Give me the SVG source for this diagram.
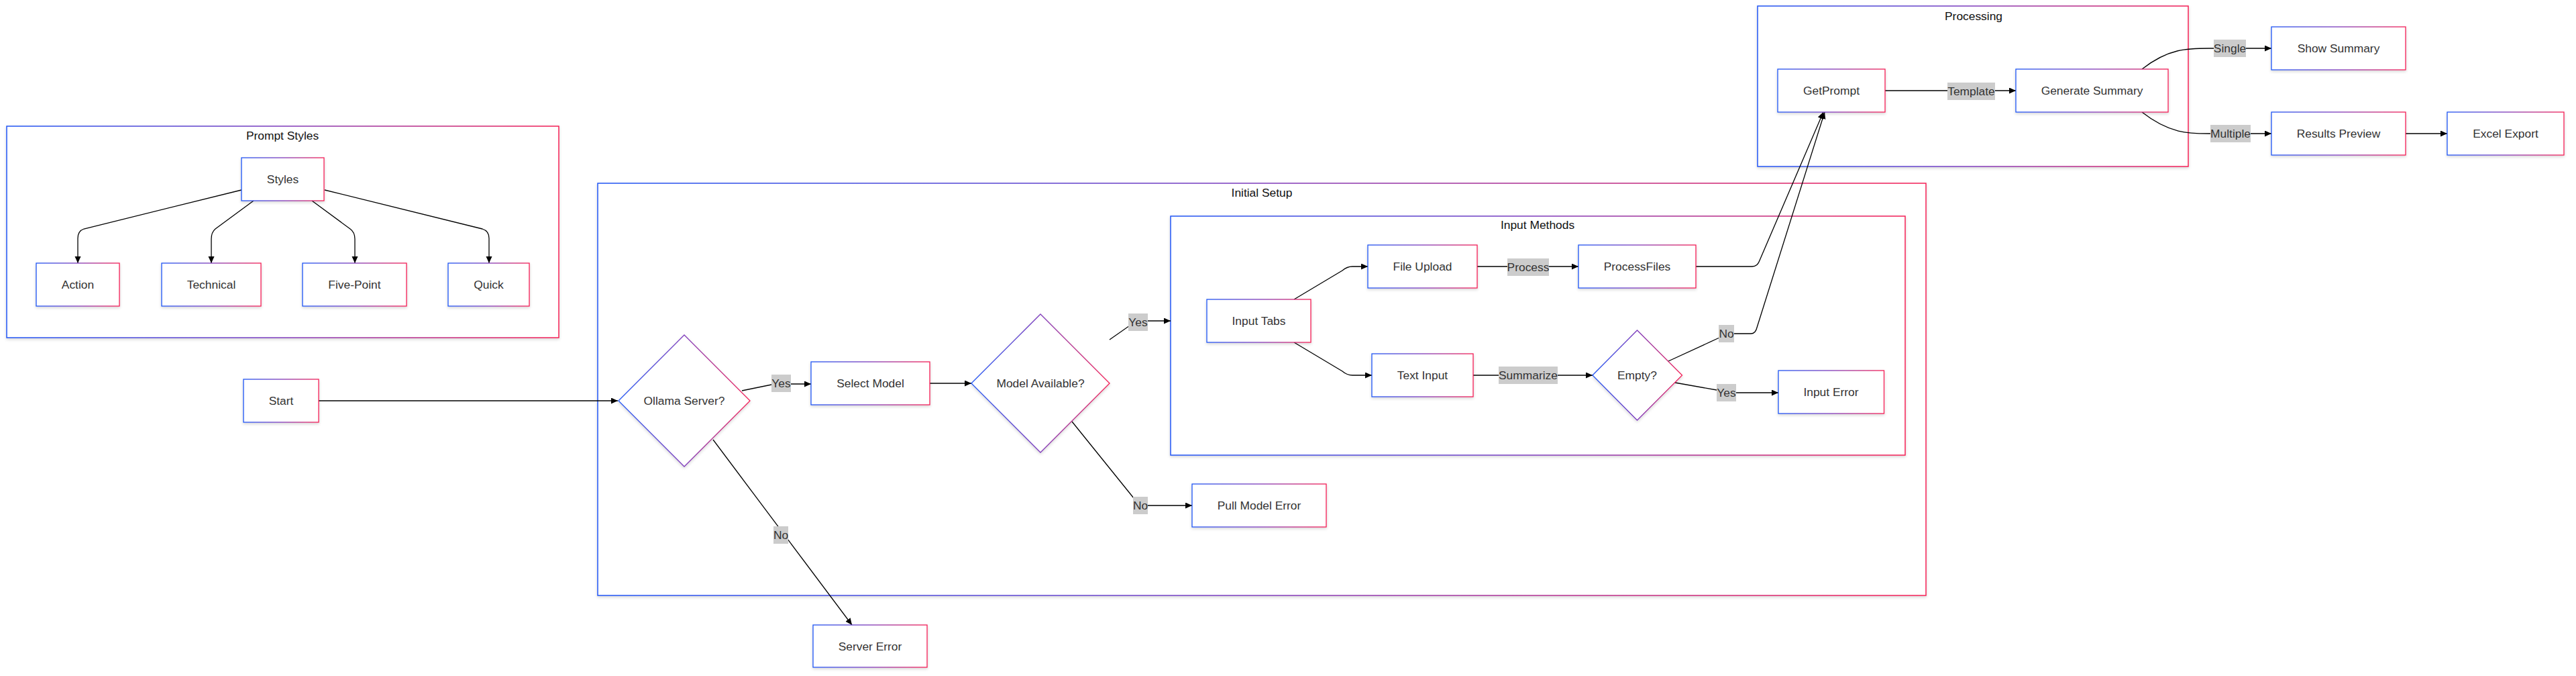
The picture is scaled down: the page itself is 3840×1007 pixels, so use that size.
<svg xmlns="http://www.w3.org/2000/svg" width="3840" height="1007" viewBox="0 0 3840 1007">
<defs>
<linearGradient id="g" x1="0" y1="0" x2="1" y2="0">
<stop offset="0" stop-color="#1f55f5"/>
<stop offset="0.5" stop-color="#7f3cbc"/>
<stop offset="1" stop-color="#f51f55"/>
</linearGradient>
<filter id="sh" x="-10%" y="-10%" width="120%" height="130%">
<feDropShadow dx="0" dy="2" stdDeviation="2" flood-color="#000" flood-opacity="0.16"/>
</filter>
<marker id="ah" markerUnits="userSpaceOnUse" markerWidth="11" markerHeight="10" refX="10" refY="4.5" orient="auto">
<path d="M0,0 L10,4.5 L0,9 z" fill="#000"/>
</marker>
</defs>
<style>
.cl{fill:#fff;stroke:url(#g);stroke-width:1.5;filter:url(#sh)}
.nd{fill:#fff;stroke:url(#g);stroke-width:1.3;filter:url(#sh)}
.t{font-family:"Liberation Sans",Arial,sans-serif;font-size:17.4px;fill:#333;text-anchor:middle}
.ct{font-family:"Liberation Sans",Arial,sans-serif;font-size:17.4px;fill:#111;text-anchor:middle}
.e{fill:none;stroke:#000;stroke-width:1.3;marker-end:url(#ah)}
.lb{fill:#cccccc}
</style>
<rect width="3840" height="1007" fill="#fff"/>
<g id="clusters">
<g id="cluster-prompt-styles"><rect class="cl" x="10" y="188" width="823" height="315"/><text class="ct" x="421" y="202" dy="0.35em">Prompt Styles</text></g>
<g id="cluster-initial-setup"><rect class="cl" x="891" y="273" width="1980" height="614"/><text class="ct" x="1881" y="287" dy="0.35em">Initial Setup</text></g>
<g id="cluster-input-methods"><rect class="cl" x="1745" y="322" width="1095" height="356"/><text class="ct" x="2292" y="335" dy="0.35em">Input Methods</text></g>
<g id="cluster-processing"><rect class="cl" x="2620" y="9" width="642" height="239"/><text class="ct" x="2942" y="24" dy="0.35em">Processing</text></g>
</g>
<g id="connectors">
<path class="e" d="M360,283 L125,341 Q116,344 116,355 L116,392"/>
<path class="e" d="M378,299 L321,341 Q315,346 315,356 L315,392"/>
<path class="e" d="M465,299 L522,341 Q529,346 529,356 L529,392"/>
<path class="e" d="M484,283 L719,341 Q729,344 729,355 L729,392"/>
<path class="e" d="M475,597 L921,597"/>
<path class="e" d="M1106,582 L1150,573 L1179,572 L1209,572"/>
<path class="e" d="M1386,571 L1448,571"/>
<path class="e" d="M1654,506 L1684,485 L1711,478 L1745,478"/>
<path class="e" d="M1598,628 L1690,742 Q1697,753 1710,753 L1777,753"/>
<path class="e" d="M1063,655 L1270,931"/>
<path class="e" d="M1929,446 L2001,403 Q2008,397 2016,397 L2039,397"/>
<path class="e" d="M1929,510 L2001,553 Q2008,559 2016,559 L2045,559"/>
<path class="e" d="M2202,397 L2353,397"/>
<path class="e" d="M2196,559 L2374,559"/>
<path class="e" d="M2528,397 L2612,397 Q2620,397 2623,388 L2718,167"/>
<path class="e" d="M2487,538 L2563,503 L2585,497 L2610,497 Q2617,497 2619,488 L2720,167"/>
<path class="e" d="M2497,570 L2559,581 L2588,585 L2651,585"/>
<path class="e" d="M2810,135 L3005,135"/>
<path class="e" d="M3193,103 C3235,70 3265,72 3300,72 L3386,72"/>
<path class="e" d="M3193,167 C3235,200 3265,199 3295,199 L3386,199"/>
<path class="e" d="M3586,199 L3648,199"/>
</g>
<g id="edge-labels">
<rect class="lb" x="1150" y="558" width="29" height="26"/><text class="t" x="1164.5" y="571" dy="0.35em">Yes</text>
<rect class="lb" x="1682" y="467" width="29" height="26"/><text class="t" x="1696.5" y="480" dy="0.35em">Yes</text>
<rect class="lb" x="1689" y="740" width="22" height="26"/><text class="t" x="1700" y="753" dy="0.35em">No</text>
<rect class="lb" x="1153" y="784" width="22" height="26"/><text class="t" x="1164" y="797" dy="0.35em">No</text>
<rect class="lb" x="2247" y="385" width="62" height="26"/><text class="t" x="2278" y="398" dy="0.35em">Process</text>
<rect class="lb" x="2234" y="546" width="88" height="26"/><text class="t" x="2278" y="559" dy="0.35em">Summarize</text>
<rect class="lb" x="2562" y="484" width="23" height="26"/><text class="t" x="2573.5" y="497" dy="0.35em">No</text>
<rect class="lb" x="2559" y="572" width="29" height="26"/><text class="t" x="2573.5" y="585" dy="0.35em">Yes</text>
<rect class="lb" x="2903" y="123" width="71" height="26"/><text class="t" x="2938.5" y="136" dy="0.35em">Template</text>
<rect class="lb" x="3300" y="59" width="48" height="26"/><text class="t" x="3324" y="72" dy="0.35em">Single</text>
<rect class="lb" x="3295" y="186" width="60" height="26"/><text class="t" x="3325" y="199" dy="0.35em">Multiple</text>
</g>
<g id="node-styles"><rect class="nd" x="360" y="235" width="123" height="64"/><text class="t" x="421.5" y="267" dy="0.35em">Styles</text></g>
<g id="node-action"><rect class="nd" x="54" y="392" width="124" height="64"/><text class="t" x="116" y="424" dy="0.35em">Action</text></g>
<g id="node-technical"><rect class="nd" x="241" y="392" width="148" height="64"/><text class="t" x="315" y="424" dy="0.35em">Technical</text></g>
<g id="node-five-point"><rect class="nd" x="451" y="392" width="155" height="64"/><text class="t" x="528.5" y="424" dy="0.35em">Five-Point</text></g>
<g id="node-quick"><rect class="nd" x="668" y="392" width="121" height="64"/><text class="t" x="728.5" y="424" dy="0.35em">Quick</text></g>
<g id="node-start"><rect class="nd" x="363" y="565" width="112" height="64"/><text class="t" x="419" y="597" dy="0.35em">Start</text></g>
<g id="node-ollama"><polygon class="nd" points="922,597 1020,499 1118,597 1020,695"/><text class="t" x="1020" y="597" dy="0.35em">Ollama Server?</text></g>
<g id="node-select-model"><rect class="nd" x="1209" y="539" width="177" height="64"/><text class="t" x="1297.5" y="571" dy="0.35em">Select Model</text></g>
<g id="node-model-available"><polygon class="nd" points="1448,571 1551,468 1654,571 1551,674"/><text class="t" x="1551" y="571" dy="0.35em">Model Available?</text></g>
<g id="node-server-error"><rect class="nd" x="1212" y="931" width="170" height="63"/><text class="t" x="1297" y="962.5" dy="0.35em">Server Error</text></g>
<g id="node-pull-model-error"><rect class="nd" x="1777" y="721" width="200" height="64"/><text class="t" x="1877" y="753" dy="0.35em">Pull Model Error</text></g>
<g id="node-input-tabs"><rect class="nd" x="1799" y="446" width="155" height="64"/><text class="t" x="1876.5" y="478" dy="0.35em">Input Tabs</text></g>
<g id="node-file-upload"><rect class="nd" x="2039" y="365" width="163" height="64"/><text class="t" x="2120.5" y="397" dy="0.35em">File Upload</text></g>
<g id="node-processfiles"><rect class="nd" x="2353" y="365" width="175" height="64"/><text class="t" x="2440.5" y="397" dy="0.35em">ProcessFiles</text></g>
<g id="node-text-input"><rect class="nd" x="2045" y="527" width="151" height="64"/><text class="t" x="2120.5" y="559" dy="0.35em">Text Input</text></g>
<g id="node-empty"><polygon class="nd" points="2374,559 2440.5,492 2507.5,559 2440.5,626"/><text class="t" x="2440.5" y="559" dy="0.35em">Empty?</text></g>
<g id="node-input-error"><rect class="nd" x="2651" y="552" width="157.5" height="64"/><text class="t" x="2729.5" y="584" dy="0.35em">Input Error</text></g>
<g id="node-getprompt"><rect class="nd" x="2650" y="103" width="160" height="64"/><text class="t" x="2730" y="135" dy="0.35em">GetPrompt</text></g>
<g id="node-generate-summary"><rect class="nd" x="3005" y="103" width="227" height="64"/><text class="t" x="3118.5" y="135" dy="0.35em">Generate Summary</text></g>
<g id="node-show-summary"><rect class="nd" x="3386" y="40" width="200" height="64"/><text class="t" x="3486" y="72" dy="0.35em">Show Summary</text></g>
<g id="node-results-preview"><rect class="nd" x="3386" y="167" width="200" height="64"/><text class="t" x="3486" y="199" dy="0.35em">Results Preview</text></g>
<g id="node-excel-export"><rect class="nd" x="3648" y="167" width="174" height="64"/><text class="t" x="3735" y="199" dy="0.35em">Excel Export</text></g>
</svg>
